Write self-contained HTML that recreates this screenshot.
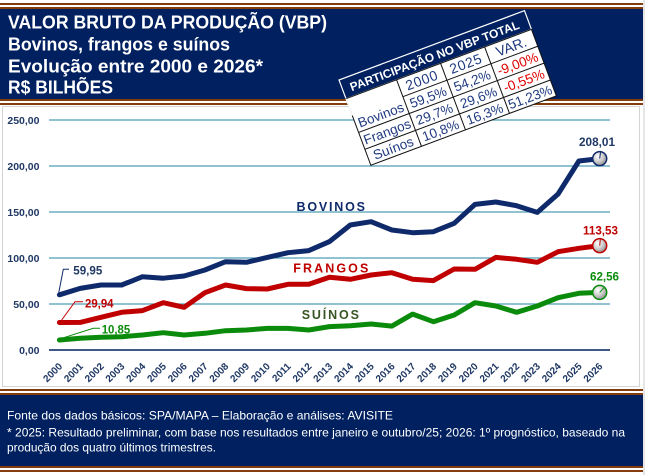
<!DOCTYPE html>
<html><head><meta charset="utf-8"><style>
html,body{margin:0;padding:0;background:#fff;}
svg{display:block;}
</style></head><body>
<svg width="645" height="475" viewBox="0 0 645 475" xmlns="http://www.w3.org/2000/svg" font-family="Liberation Sans, Arial, sans-serif">
<defs>
<radialGradient id="mk" cx="38%" cy="35%" r="70%">
<stop offset="0" stop-color="#ffffff"/><stop offset="0.5" stop-color="#d0d0d0"/><stop offset="1" stop-color="#8a8a8a"/>
</radialGradient>
</defs>
<rect x="0" y="0" width="645" height="475" fill="#fff"/>
<rect x="643" y="0" width="2" height="475" fill="#e6e6e6"/>
<!-- header -->
<rect x="0" y="3" width="643" height="2" fill="#843c0c"/>
<rect x="0" y="7" width="643" height="2" fill="#843c0c"/>
<rect x="0" y="9" width="643" height="90" fill="#002060"/>
<rect x="0" y="99" width="643" height="2" fill="#843c0c"/>
<rect x="0" y="103" width="643" height="2" fill="#843c0c"/>
<g fill="#fff" font-weight="bold" font-size="18">
<text x="8" y="28.3" textLength="319" lengthAdjust="spacingAndGlyphs">VALOR BRUTO DA PRODUÇÃO (VBP)</text>
<text x="8" y="50.5" textLength="222" lengthAdjust="spacingAndGlyphs">Bovinos, frangos e suínos</text>
<text x="8" y="72.5" textLength="255" lengthAdjust="spacingAndGlyphs">Evolução entre 2000 e 2026*</text>
<text x="8" y="93.5" textLength="105" lengthAdjust="spacingAndGlyphs">R$ BILHÕES</text>
</g>
<!-- chart panel -->
<rect x="2.5" y="106.5" width="637" height="280" fill="#fff" stroke="#d4d4d4" stroke-width="1"/>
<!-- gridlines -->
<g stroke="#4f9db6" stroke-width="1.3">
<line x1="49" y1="120" x2="610" y2="120"/>
<line x1="49" y1="166" x2="610" y2="166"/>
<line x1="49" y1="212" x2="610" y2="212"/>
<line x1="49" y1="258" x2="610" y2="258"/>
<line x1="49" y1="304" x2="610" y2="304"/>
</g>
<line x1="49" y1="350" x2="610" y2="350" stroke="#002060" stroke-width="1.5"/>
<g fill="#1f3864" font-weight="bold" font-size="10.5" text-anchor="end">
<text x="39.5" y="124">250,00</text>
<text x="39.5" y="170">200,00</text>
<text x="39.5" y="216">150,00</text>
<text x="39.5" y="262">100,00</text>
<text x="39.5" y="308">50,00</text>
<text x="39.5" y="354">0,00</text>
</g>
<!-- x labels -->
<g fill="#1f3864" font-weight="bold" font-size="10" text-anchor="end">
<text transform="translate(62.9,367) rotate(-45)">2000</text>
<text transform="translate(83.7,367) rotate(-45)">2001</text>
<text transform="translate(104.5,367) rotate(-45)">2002</text>
<text transform="translate(125.2,367) rotate(-45)">2003</text>
<text transform="translate(146,367) rotate(-45)">2004</text>
<text transform="translate(166.8,367) rotate(-45)">2005</text>
<text transform="translate(187.6,367) rotate(-45)">2006</text>
<text transform="translate(208.4,367) rotate(-45)">2007</text>
<text transform="translate(229.1,367) rotate(-45)">2008</text>
<text transform="translate(249.9,367) rotate(-45)">2009</text>
<text transform="translate(270.7,367) rotate(-45)">2010</text>
<text transform="translate(291.5,367) rotate(-45)">2011</text>
<text transform="translate(312.3,367) rotate(-45)">2012</text>
<text transform="translate(333,367) rotate(-45)">2013</text>
<text transform="translate(353.8,367) rotate(-45)">2014</text>
<text transform="translate(374.6,367) rotate(-45)">2015</text>
<text transform="translate(395.4,367) rotate(-45)">2016</text>
<text transform="translate(416.2,367) rotate(-45)">2017</text>
<text transform="translate(436.9,367) rotate(-45)">2018</text>
<text transform="translate(457.7,367) rotate(-45)">2019</text>
<text transform="translate(478.5,367) rotate(-45)">2020</text>
<text transform="translate(499.3,367) rotate(-45)">2021</text>
<text transform="translate(520.1,367) rotate(-45)">2022</text>
<text transform="translate(540.8,367) rotate(-45)">2023</text>
<text transform="translate(561.6,367) rotate(-45)">2024</text>
<text transform="translate(582.4,367) rotate(-45)">2025</text>
<text transform="translate(603.2,367) rotate(-45)">2026</text>
</g>
<!-- series -->
<g fill="none" stroke-width="5" stroke-linejoin="round" stroke-linecap="round">
<polyline stroke="#0b8b0b" points="59.4,340 80.2,338.3 101,337.3 121.7,336.7 142.5,335 163.3,332.7 184.1,335 204.9,333.3 225.6,330.7 246.4,330 267.2,328.4 288,328.4 308.8,330 329.5,326.6 350.3,325.7 371.1,324 391.9,326.1 412.7,314.1 433.4,321.7 454.2,315 475,302.7 495.8,306 516.6,312.3 537.3,306 558.1,297.7 578.9,293.3 599.7,292.4"/>
<polyline stroke="#c00000" points="59.4,322.5 80.2,322.4 101,317.3 121.7,312.3 142.5,310.6 163.3,302.7 184.1,307.3 204.9,292.7 225.6,285 246.4,288.6 267.2,289 288,284.3 308.8,284.3 329.5,277.3 350.3,279.3 371.1,275 391.9,272.7 412.7,279.3 433.4,280.6 454.2,269 475,269.3 495.8,257.4 516.6,259.3 537.3,262.3 558.1,251.7 578.9,248.3 599.7,245.6"/>
<polyline stroke="#0f2a6b" points="59.4,294.8 80.2,288.4 101,285 121.7,285 142.5,276.7 163.3,278.2 184.1,276 204.9,270 225.6,261.7 246.4,262.3 267.2,257.4 288,252.7 308.8,250.6 329.5,241.6 350.3,225 371.1,221.7 391.9,230 412.7,232.7 433.4,231.7 454.2,223.3 475,204.4 495.8,202 516.6,205.7 537.3,212.4 558.1,194 578.9,161 599.7,158.6"/>
</g>
<!-- markers -->
<g stroke-width="1.5">
<circle cx="599.7" cy="158.6" r="7" fill="url(#mk)" stroke="#0f2a6b"/>
<line x1="599.7" y1="158.6" x2="600.5" y2="152.5" stroke="#0f2a6b" stroke-width="1"/>
<circle cx="599.7" cy="245.6" r="7" fill="url(#mk)" stroke="#c00000"/>
<line x1="599.7" y1="245.6" x2="600.3" y2="239.5" stroke="#c00000" stroke-width="1"/>
<circle cx="599.7" cy="292.4" r="7" fill="url(#mk)" stroke="#0b8b0b"/>
<line x1="599.7" y1="292.4" x2="603.8" y2="287.8" stroke="#0b8b0b" stroke-width="1"/>
</g>
<!-- leader lines -->
<g fill="none" stroke-width="1">
<polyline stroke="#0f2a6b" points="58.8,292.5 63.3,269.3 69,269.3"/>
<polyline stroke="#c00000" points="61.7,320 75,301.7 83,301.7"/>
<polyline stroke="#0b8b0b" points="61.7,338.3 93.3,328.3 100,328.3"/>
</g>
<!-- value labels -->
<g font-weight="bold" font-size="11.5">
<text x="73.3" y="274.5" fill="#1f3864" textLength="29" lengthAdjust="spacingAndGlyphs">59,95</text>
<text x="85" y="307.7" fill="#c00000" textLength="28.5" lengthAdjust="spacingAndGlyphs">29,94</text>
<text x="101.7" y="333.3" fill="#0b8b0b" textLength="28.5" lengthAdjust="spacingAndGlyphs">10,85</text>
<text x="579" y="145.8" fill="#1f3864" textLength="36" lengthAdjust="spacingAndGlyphs">208,01</text>
<text x="583" y="234.3" fill="#c00000" textLength="35" lengthAdjust="spacingAndGlyphs">113,53</text>
<text x="590" y="280.3" fill="#0b8b0b" textLength="29" lengthAdjust="spacingAndGlyphs">62,56</text>
</g>
<!-- series names -->
<g font-weight="bold" font-size="12.5">
<text x="296.5" y="211" fill="#0f2a6b" textLength="68.5" lengthAdjust="spacing">BOVINOS</text>
<text x="293.3" y="272.3" fill="#c00000" textLength="75" lengthAdjust="spacing">FRANGOS</text>
<text x="301.7" y="319" fill="#375623" textLength="57.3" lengthAdjust="spacing">SUÍNOS</text>
</g>
<!-- rotated table -->
<g transform="translate(339,80) rotate(-20.5)">
<rect x="0" y="0" width="198" height="20" fill="#002060" stroke="#ffffff" stroke-width="1.2"/>
<rect x="0" y="20" width="198" height="71" fill="#ffffff"/>
<g stroke="#111" stroke-width="1" fill="none">
<rect x="0" y="20" width="198" height="71"/>
<line x1="54" y1="20" x2="54" y2="91"/>
<line x1="101" y1="20" x2="101" y2="91"/>
<line x1="148" y1="20" x2="148" y2="91"/>
<line x1="54" y1="38" x2="198" y2="38"/>
<line x1="0" y1="56" x2="198" y2="56"/>
<line x1="0" y1="74" x2="198" y2="74"/>
</g>
<line x1="0" y1="20" x2="0" y2="38" stroke="#fff" stroke-width="1.2"/>
<text x="98" y="15" fill="#fff" font-weight="bold" font-size="12" text-anchor="middle" textLength="180" lengthAdjust="spacingAndGlyphs">PARTICIPAÇÃO NO VBP TOTAL</text>
<g font-size="14" fill="#1f3a80" text-anchor="middle">
<text x="77.5" y="34" letter-spacing="0.6">2000</text>
<text x="124.5" y="34" letter-spacing="0.6">2025</text>
<text x="173" y="34">VAR.</text>
</g>
<g font-size="13.5" fill="#1f3a80" text-anchor="middle">
<text x="27" y="52">Bovinos</text>
<text x="27" y="70">Frangos</text>
<text x="27" y="87.5">Suínos</text>
<text x="77.5" y="52">59,5%</text>
<text x="124.5" y="52">54,2%</text>
<text x="77.5" y="70">29,7%</text>
<text x="124.5" y="70">29,6%</text>
<text x="77.5" y="87.5">10,8%</text>
<text x="124.5" y="87.5">16,3%</text>
<text x="173" y="87.5">51,23%</text>
</g>
<g font-size="13.5" fill="#e00000" text-anchor="middle">
<text x="173" y="52">-9,00%</text>
<text x="173" y="70">-0,55%</text>
</g>
</g>
<!-- footer -->
<rect x="0" y="389" width="643" height="2" fill="#843c0c"/>
<rect x="0" y="393" width="643" height="2" fill="#843c0c"/>
<rect x="0" y="395" width="643" height="71" fill="#002060"/>
<rect x="0" y="466" width="643" height="2" fill="#843c0c"/>
<rect x="0" y="470" width="643" height="2" fill="#843c0c"/>
<g fill="#fff" font-size="12">
<text x="7" y="419.5" textLength="386" lengthAdjust="spacingAndGlyphs">Fonte dos dados básicos: SPA/MAPA – Elaboração e análises: AVISITE</text>
<text x="7" y="436.5" textLength="618" lengthAdjust="spacingAndGlyphs">* 2025: Resultado preliminar, com base nos resultados entre janeiro e outubro/25; 2026: 1º prognóstico, baseado na</text>
<text x="7" y="451.5" textLength="209" lengthAdjust="spacingAndGlyphs">produção dos quatro últimos trimestres.</text>
</g>
</svg>
</body></html>
